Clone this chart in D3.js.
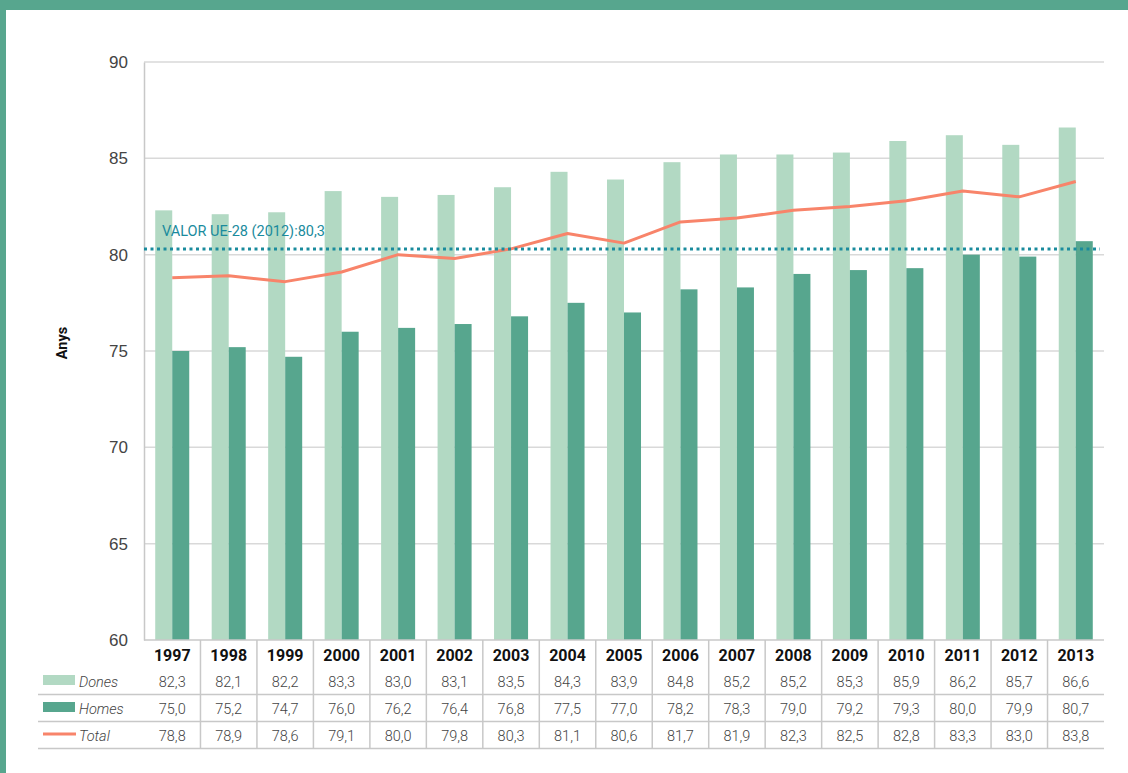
<!DOCTYPE html>
<html>
<head>
<meta charset="utf-8">
<script src="https://cdn.jsdelivr.net/npm/d3@7"></script>
<style>
  html, body { margin: 0; padding: 0; background: #fff; }
  svg { display: block; font-family: Roboto, "Noto Sans", sans-serif; }
</style>
</head>
<body>
<svg id="chart" width="1128" height="773"></svg>
<script>
// Esperança de vida en néixer, per sexe (anys)
const years = ["1997","1998","1999","2000","2001","2002","2003","2004","2005","2006","2007","2008","2009","2010","2011","2012","2013"];
const dones = [82.3, 82.1, 82.2, 83.3, 83.0, 83.1, 83.5, 84.3, 83.9, 84.8, 85.2, 85.2, 85.3, 85.9, 86.2, 85.7, 86.6];
const homes = [75.0, 75.2, 74.7, 76.0, 76.2, 76.4, 76.8, 77.5, 77.0, 78.2, 78.3, 79.0, 79.2, 79.3, 80.0, 79.9, 80.7];
const total = [78.8, 78.9, 78.6, 79.1, 80.0, 79.8, 80.3, 81.1, 80.6, 81.7, 81.9, 82.3, 82.5, 82.8, 83.3, 83.0, 83.8];
const yTicks = [60, 65, 70, 75, 80, 85, 90];
const ueValue = 80.3;
const ueLabel = "VALOR UE-28 (2012):80,3";
const seriesNames = ["Dones", "Homes", "Total"];

const colors = { Dones: "#b2d9c3", Homes: "#57a68e", Total: "#f8846a", ue: "#1a8b9d", frame: "#57a68e" };
const fmt = v => v.toFixed(1).replace(".", ",");

const svg = d3.select("#chart");
const plotLeft = 144, plotRight = 1104, plotTop = 62, plotBottom = 640;

// frame bars
svg.append("rect").attr("x", 0).attr("y", 0).attr("width", 1128).attr("height", 10).attr("fill", colors.frame);
svg.append("rect").attr("x", 0).attr("y", 0).attr("width", 6).attr("height", 773).attr("fill", colors.frame);

const x = d3.scaleBand().domain(years).range([plotLeft, plotRight]).paddingInner(0).paddingOuter(0);
const xSub = d3.scaleBand().domain(["Dones", "Homes"]).range([0, x.bandwidth()]).paddingInner(0).paddingOuter(0.66);
const y = d3.scaleLinear().domain([60, 90]).range([plotBottom, plotTop]);

// gridlines
const grid = svg.append("g");
grid.selectAll("line").data(yTicks.filter(t => t > 60)).join("line")
  .attr("x1", plotLeft).attr("x2", plotRight)
  .attr("y1", d => y(d)).attr("y2", d => y(d))
  .attr("stroke", "#d9d9d9").attr("stroke-width", 1.5);

// y axis
const yAxis = svg.append("g").attr("transform", `translate(${plotLeft},0)`)
  .call(d3.axisLeft(y).tickValues(yTicks).tickSize(0).tickPadding(16).tickFormat(d3.format("d")));
yAxis.select(".domain").attr("stroke", "#c8c8c8").attr("stroke-width", 1.5);
yAxis.selectAll("text").attr("font-size", 17).attr("fill", "#444").attr("font-weight", 300);

svg.append("text").attr("transform", `translate(67,343) rotate(-90)`)
  .attr("text-anchor", "middle").attr("font-size", 14.5).attr("font-weight", 700).attr("fill", "#111")
  .text("Anys");

// bars
const groups = svg.append("g").selectAll("g").data(years).join("g")
  .attr("transform", d => `translate(${x(d)},0)`);
groups.append("rect")
  .attr("x", xSub("Dones")).attr("width", xSub.bandwidth())
  .attr("y", (d, i) => y(dones[i])).attr("height", (d, i) => y(60) - y(dones[i]))
  .attr("fill", colors.Dones);
groups.append("rect")
  .attr("x", xSub("Homes")).attr("width", xSub.bandwidth())
  .attr("y", (d, i) => y(homes[i])).attr("height", (d, i) => y(60) - y(homes[i]))
  .attr("fill", colors.Homes);

// total line
const line = d3.line().x((d, i) => x(years[i]) + x.bandwidth() / 2).y(d => y(d));
svg.append("path").datum(total).attr("d", line)
  .attr("fill", "none").attr("stroke", colors.Total).attr("stroke-width", 3).attr("stroke-linejoin", "round");

// EU reference line
svg.append("line").attr("x1", plotLeft).attr("x2", plotRight - 4)
  .attr("y1", y(ueValue)).attr("y2", y(ueValue))
  .attr("stroke", colors.ue).attr("stroke-width", 3).attr("stroke-dasharray", "3,3.5");
svg.append("text").attr("x", 162).attr("y", y(ueValue) - 13)
  .attr("font-size", 14.5).attr("fill", colors.ue).text(ueLabel);

// x axis line
svg.append("line").attr("x1", plotLeft).attr("x2", plotRight).attr("y1", plotBottom).attr("y2", plotBottom)
  .attr("stroke", "#c8c8c8").attr("stroke-width", 1.5);

// data table
const rowY = [682, 709, 736];
const sepY = [694.5, 721.5, 748.5];
const table = svg.append("g");
table.selectAll(".yr").data(years).join("text")
  .attr("x", d => x(d) + x.bandwidth() / 2).attr("y", 661)
  .attr("text-anchor", "middle").attr("font-size", 16).attr("font-weight", 700).attr("fill", "#111")
  .text(d => d);

table.selectAll(".hsep").data(sepY).join("line")
  .attr("x1", 38).attr("x2", plotRight).attr("y1", d => d).attr("y2", d => d)
  .attr("stroke", "#c8c8c8").attr("stroke-width", 1.5);
table.selectAll(".vsep").data(years.slice(1)).join("line")
  .attr("x1", d => x(d)).attr("x2", d => x(d)).attr("y1", plotBottom).attr("y2", sepY[2])
  .attr("stroke", "#c8c8c8").attr("stroke-width", 1.5);

const rows = [dones, homes, total];
rows.forEach((vals, r) => {
  table.append("g").selectAll("text").data(vals).join("text")
    .attr("x", (d, i) => x(years[i]) + x.bandwidth() / 2).attr("y", rowY[r] + 5)
    .attr("text-anchor", "middle").attr("font-size", 14.5).attr("fill", "#444").attr("font-weight", 300)
    .text(d => fmt(d));
});

// legend keys in the table
seriesNames.forEach((name, r) => {
  if (name === "Total") {
    table.append("line").attr("x1", 43).attr("x2", 76).attr("y1", rowY[r] - 2).attr("y2", rowY[r] - 2)
      .attr("stroke", colors.Total).attr("stroke-width", 3);
  } else {
    table.append("rect").attr("x", 43).attr("y", rowY[r] - 7).attr("width", 32).attr("height", 10)
      .attr("fill", colors[name]);
  }
  table.append("text").attr("x", 79).attr("y", rowY[r] + 5)
    .attr("font-size", 14.5).attr("font-style", "italic").attr("fill", "#444").attr("font-weight", 300)
    .text(name);
});
</script>
</body>
</html>
